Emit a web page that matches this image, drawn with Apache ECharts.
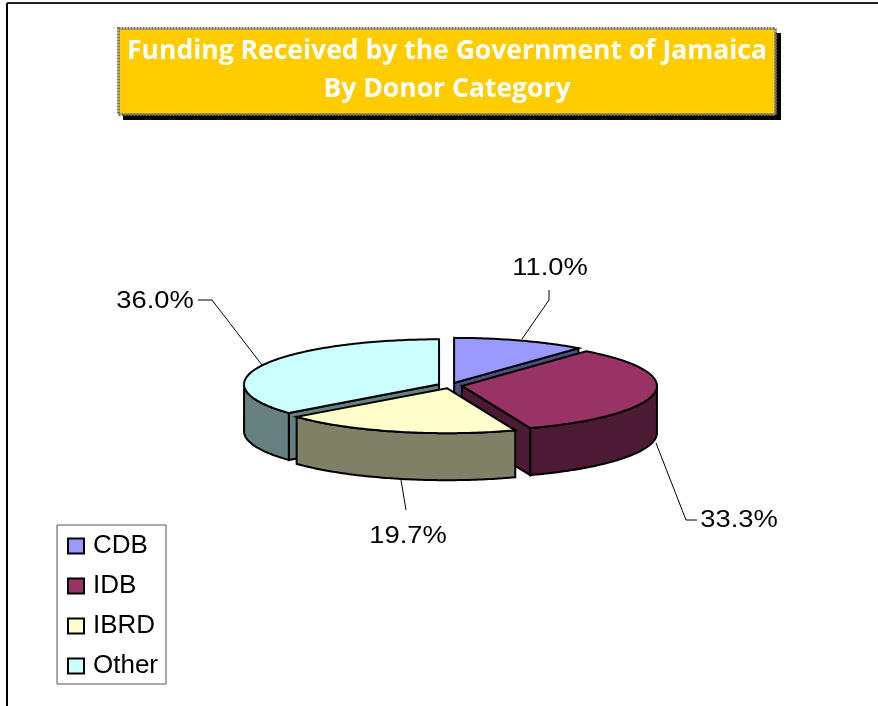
<!DOCTYPE html>
<html>
<head>
<meta charset="utf-8">
<style>html,body{margin:0;padding:0;background:#fff}#c{width:878px;height:706px}</style>
<script src="https://cdn.jsdelivr.net/npm/echarts@6/dist/echarts.min.js"></script>
</head>
<body>
<div id="c"></div>
<script>
const categories = ['CDB', 'IDB', 'IBRD', 'Other'];
const shares = [11.0, 33.3, 19.7, 36.0];
const titleLines = ['Funding Received by the Government of Jamaica', 'By Donor Category'];

const topColors = ['#9999FF', '#993366', '#FFFFCC', '#CCFFFF'];
const sideColors = ['#4D4D80', '#4D1A33', '#808066', '#668080'];

const pie = { cx: 450, cy: 385.5, rx: 195, ry: 45, depth: 47, explode: 0.062 };
const labelAt = [[550, 268], [739, 520], [408, 536], [155, 301]];
const leaderAt = [
  [[549, 290], [549, 300], [522, 339]],
  [[656, 443], [686, 520], [697, 520]],
  [[401, 480], [406, 510]],
  [[198, 300], [212, 300], [262, 365]]
];

const total = shares.reduce((a, b) => a + b, 0);
const rad = d => d * Math.PI / 180;

function renderSlice(i, api) {
  const value = api.value(0);
  let before = 0;
  for (let k = 0; k < i; k++) before += shares[k];
  const a0 = before / total * 360;
  const a1 = (before + value) / total * 360;
  const mid = rad((a0 + a1) / 2);
  const cx = pie.cx + pie.rx * pie.explode * Math.sin(mid);
  const cy = pie.cy - pie.ry * pie.explode * Math.cos(mid);
  const pt = (deg, dy) => [cx + pie.rx * Math.sin(rad(deg)), cy - pie.ry * Math.cos(rad(deg)) + (dy || 0)];
  const arc = (from, to, dy) => {
    const out = [];
    const n = Math.max(1, Math.ceil(Math.abs(to - from)));
    for (let s = 0; s <= n; s++) out.push(pt(from + (to - from) * s / n, dy));
    return out;
  };
  const edge = { stroke: '#000', lineWidth: 2, lineJoin: 'miter' };
  const children = [];

  // leader line and percentage label
  children.push({
    type: 'polyline', shape: { points: leaderAt[i] },
    style: { stroke: '#000', lineWidth: 1, fill: null }
  });
  children.push({
    type: 'text', x: labelAt[i][0], y: labelAt[i][1], scaleX: 1.14,
    style: {
      text: value.toFixed(1) + '%', fill: '#000', align: 'center', verticalAlign: 'middle',
      font: '24px "Liberation Sans", Arial, sans-serif'
    }
  });

  const side = pts => ({
    type: 'polygon', shape: { points: pts },
    style: Object.assign({ fill: sideColors[i] }, edge)
  });
  const radial = deg => {
    const p = pt(deg);
    return side([[cx, cy], p, [p[0], p[1] + pie.depth], [cx, cy + pie.depth]]);
  };
  if (Math.sin(rad(a0)) < -1e-6) children.push(radial(a0));
  if (Math.sin(rad(a1)) > 1e-6) children.push(radial(a1));
  const w0 = Math.max(a0, 90), w1 = Math.min(a1, 270);
  if (w1 > w0) children.push(side(arc(w0, w1, 0).concat(arc(w1, w0, pie.depth))));

  children.push({
    type: 'polygon', shape: { points: [[cx, cy]].concat(arc(a0, a1, 0)) },
    style: Object.assign({ fill: topColors[i] }, edge)
  });
  return { type: 'group', children };
}

// back-to-front paint order follows the slice's mid angle
let acc = 0;
const depthKey = shares.map(v => {
  const m = rad((acc + v / 2) / total * 360);
  acc += v;
  return -Math.cos(m);
});
const rank = depthKey.map(d => depthKey.filter(o => o < d).length);

const chart = echarts.init(document.getElementById('c'), null, { renderer: 'canvas' });
chart.setOption({
  animation: false,
  backgroundColor: '#fff',
  title: {
    text: titleLines.join('\n'),
    left: 442, top: 28,
    padding: [4, 5, 7, 5],
    backgroundColor: '#FFCC00',
    borderColor: '#777',
    borderWidth: 3,
    borderType: [2, 1],
    textAlign: 'center',
    textStyle: {
      color: '#fff', fontFamily: 'Open Sans', fontWeight: 'bold', fontSize: 26.5,
      lineHeight: 38, width: 647
    }
  },
  legend: {
    left: 57, top: 525,
    orient: 'vertical',
    padding: [8, 8, 5, 10],
    itemGap: 14,
    itemWidth: 16,
    itemHeight: 15,
    icon: 'rect',
    borderColor: '#555',
    borderWidth: 1,
    borderRadius: 0,
    data: categories,
    itemStyle: { borderColor: '#000', borderWidth: 2 },
    textStyle: {
      color: '#000', fontFamily: 'Liberation Sans', fontSize: 26,
      padding: [0, 0, 0, 4], height: 24, lineHeight: 24
    },
    selectedMode: false
  },
  graphic: [
    { type: 'line', silent: true, shape: { x1: 7, y1: 3, x2: 878, y2: 3 }, style: { stroke: '#222', lineWidth: 2 } },
    { type: 'line', silent: true, shape: { x1: 7, y1: 3, x2: 7, y2: 706 }, style: { stroke: '#000', lineWidth: 2 } },
    { type: 'rect', silent: true, z: 1, shape: { x: 123, y: 33, width: 658, height: 87 }, style: { fill: '#000' } }
  ],
  series: categories.map((name, i) => ({
    type: 'custom',
    name,
    coordinateSystem: 'none',
    z: 2 + rank[i],
    itemStyle: { color: topColors[i] },
    data: [[shares[i]]],
    renderItem: (params, api) => renderSlice(i, api)
  }))
});
</script>
</body>
</html>
